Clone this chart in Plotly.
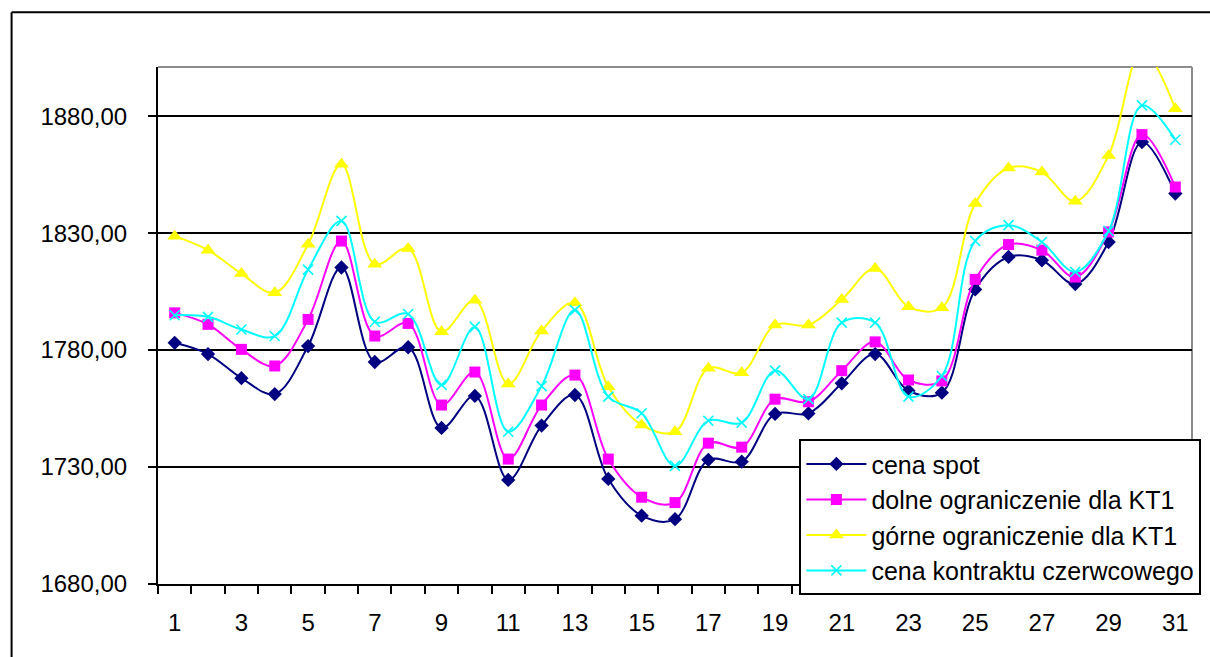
import plotly.graph_objects as go

# Day of month
days = list(range(1, 32))

# Series values
cena_spot = [1783.1, 1778.3, 1768.0, 1761.2, 1781.7, 1815.3, 1774.9, 1781.2, 1746.7, 1760.4,
             1724.5, 1747.7, 1760.8, 1724.9, 1709.2, 1707.7, 1733.1, 1732.3, 1752.7, 1752.9,
             1765.8, 1778.3, 1762.6, 1761.8, 1805.9, 1819.8, 1818.4, 1808.2, 1826.2, 1868.9,
             1846.9]
dolne_kt1 = [1795.9, 1791.0, 1780.3, 1773.2, 1793.1, 1826.6, 1786.0, 1791.4, 1756.5, 1770.6,
             1733.4, 1756.5, 1769.3, 1733.4, 1717.1, 1714.8, 1740.2, 1738.5, 1759.0, 1757.9,
             1771.2, 1783.5, 1767.2, 1766.8, 1810.2, 1825.1, 1822.7, 1811.2, 1830.5, 1872.1,
             1849.7]
gorne_kt1 = [1828.7, 1822.7, 1812.7, 1804.5, 1825.2, 1859.4, 1816.7, 1823.4, 1787.8, 1801.3,
             1765.5, 1788.2, 1800.2, 1764.3, 1748.0, 1745.1, 1772.2, 1770.3, 1790.7, 1790.7,
             1801.6, 1814.9, 1798.5, 1798.1, 1842.6, 1857.8, 1856.1, 1843.6, 1863.2, 1908.0,
             1883.2]
kontrakt_czerwcowy = [1794.9, 1794.2, 1788.8, 1786.0, 1814.4, 1835.2, 1792.1, 1795.4, 1765.1, 1789.9,
                      1745.1, 1764.6, 1797.1, 1760.1, 1753.0, 1730.5, 1749.8, 1749.0, 1771.2, 1759.0,
                      1791.7, 1791.7, 1760.1, 1768.9, 1826.6, 1833.4, 1826.2, 1813.4, 1830.9, 1884.6,
                      1869.9]

series_names = ["cena spot", "dolne ograniczenie dla KT1",
                "górne ograniczenie dla KT1", "cena kontraktu czerwcowego"]

# Axis ticks
y_ticks = [1680, 1730, 1780, 1830, 1880]
y_tick_text = [f"{v:.2f}".replace(".", ",") for v in y_ticks]
x_ticks = [d for d in days if d % 2 == 1]

FONT = "Liberation Sans, Arial, sans-serif"

styles = [
    dict(color="#000080", symbol="diamond", size=11, mline=None),
    dict(color="#FF00FF", symbol="square", size=11, mline=None),
    dict(color="#FFFF00", symbol="triangle-up", size=13, mline=None),
    dict(color="#00FFFF", symbol="x-thin", size=10, mline=dict(color="#00FFFF", width=1.6)),
]

fig = go.Figure()
for name, vals, st in zip(series_names,
                          [cena_spot, dolne_kt1, gorne_kt1, kontrakt_czerwcowy], styles):
    marker = dict(color=st["color"], symbol=st["symbol"], size=st["size"])
    if st["mline"]:
        marker["line"] = st["mline"]
    fig.add_trace(go.Scatter(
        x=days, y=vals, name=name, mode="lines+markers",
        line=dict(color=st["color"], width=2, shape="spline", smoothing=1.0),
        marker=marker, legendgroup=name,
    ))

# Outer chart frame (left and top edges visible)
fig.add_shape(type="line", xref="paper", yref="paper",
              x0=-0.1416, x1=-0.1416, y0=1.1057, y1=-0.3,
              line=dict(color="black", width=2))
fig.add_shape(type="line", xref="paper", yref="paper",
              x0=-0.1416, x1=1.1, y0=1.1057, y1=1.1057,
              line=dict(color="black", width=2))
# Plot area frame: grey on top and right
fig.add_shape(type="line", xref="paper", yref="paper",
              x0=0, x1=1, y0=1, y1=1, line=dict(color="#8c8c8c", width=2), layer="below")
fig.add_shape(type="line", xref="paper", yref="paper",
              x0=1, x1=1, y0=0, y1=1, line=dict(color="#8c8c8c", width=2), layer="below")

fig.update_layout(
    width=1210, height=657,
    margin=dict(l=158, r=18, t=67, b=73, autoexpand=False),
    paper_bgcolor="white", plot_bgcolor="white",
    font=dict(family=FONT, size=24, color="black"),
    showlegend=True,
    legend=dict(
        x=0.6203, y=0.2801, xanchor="left", yanchor="top",
        bgcolor="white", bordercolor="black", borderwidth=2,
        font=dict(family=FONT, size=25, color="black"),
        tracegroupgap=0, itemwidth=60,
    ),
)

fig.update_xaxes(
    range=[0.5, 31.5], tickmode="array", tickvals=x_ticks, ticktext=[str(v) for v in x_ticks],
    ticks="", showgrid=False, zeroline=False,
    showline=True, linecolor="black", linewidth=2,
    ticklabelstandoff=16,
    minor=dict(ticks="outside", ticklen=8, tickwidth=2, tickcolor="black",
               tickmode="linear", tick0=0.5, dtick=1, showgrid=False),
    tickfont=dict(family=FONT, size=24, color="black"),
)
fig.update_yaxes(
    range=[1680, 1901], tickmode="array", tickvals=y_ticks, ticktext=y_tick_text,
    ticks="outside", ticklen=8, tickwidth=2, tickcolor="black",
    showgrid=True, gridcolor="black", gridwidth=2, zeroline=False,
    showline=True, linecolor="black", linewidth=2,
    ticklabelstandoff=16,
    tickfont=dict(family=FONT, size=24, color="black"),
)

fig.write_html("out.html")
